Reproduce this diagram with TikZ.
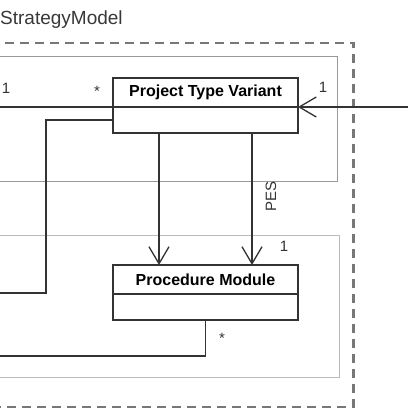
\documentclass[tikz,border=0pt]{standalone}
\usepackage{fontspec}
\setmainfont{Liberation Sans}
\usetikzlibrary{arrows.meta}
\definecolor{boxline}{HTML}{333333}
\definecolor{pkgline}{HTML}{777777}
\definecolor{frameA}{HTML}{999999}
\definecolor{frameB}{HTML}{BBBBBB}
\tikzset{
  umlhead/.style={draw=boxline, line width=1.6pt, minimum width=185pt, minimum height=29pt, inner sep=0pt, outer sep=0pt, anchor=north west, font=\fontsize{16}{18}\selectfont\bfseries},
  umlbody/.style={draw=boxline, line width=1.6pt, minimum width=185pt, minimum height=26pt, inner sep=0pt, outer sep=0pt, anchor=north west},
  conn/.style={draw=boxline, line width=1.4pt},
  openarrow/.style={-{Straight Barb[length=17pt, width=20pt, line width=1.3pt]}},
  lbl/.style={inner sep=0pt, anchor=base, font=\fontsize{15}{17}\selectfont, text=boxline},
}
\begin{document}
\begin{tikzpicture}[x=1pt, y=-1pt]
\useasboundingbox (0,0) rectangle (408,408);
% title
\node[anchor=base west, inner sep=0pt, font=\fontsize{19}{22}\selectfont, text=black!78] (title) at (0,24) {StrategyModel};
% package frame (dashed)
\draw[pkgline, line width=2.4pt, dash pattern=on 9pt off 6pt] (-10,42.7) -- (353.3,42.7) -- (353.3,407) -- (-10,407);
% inner frames
\draw[frameA, line width=1pt] (-10,56.5) -- (337,56.5) -- (337,181) -- (-10,181);
\draw[frameB, line width=1pt] (-10,235.7) -- (339.5,235.7) -- (339.5,377) -- (-10,377);
% classes
\node[umlhead] (ptvh) at (113,78) {Project Type Variant};
\node[umlbody] (ptvb) at (113,107) {};
\node[umlhead] (pmh) at (113,265) {Procedure Module};
\node[umlbody] (pmb) at (113,294) {};
% free ends
\coordinate (leftA) at (0,107);
\coordinate (rightA) at (410,107);
\coordinate (leftB) at (0,293);
\coordinate (leftC) at (0,356);
% connectors
\draw[conn] (leftA) -- (leftA -| ptvh.west);
\draw[conn, openarrow] (rightA) -- (rightA -| ptvh.east);
\draw[conn] (ptvb.west) -- ++(-67,0) |- (leftB);
\draw[conn, openarrow] ([xshift=-46.5pt]ptvb.south) -- ([xshift=-46.5pt]pmh.north);
\draw[conn, openarrow] ([xshift=46.5pt]ptvb.south) -- ([xshift=46.5pt]pmh.north);
\draw[conn] (pmb.south) |- (leftC);
% labels
\node[lbl] (m1) at (6,93) {1};
\node[lbl] (m2) at (97,96) {*};
\node[lbl] (m3) at (323,92) {1};
\node[lbl, anchor=center, rotate=90] (pes) at (271,196) {PES};
\node[lbl] (m4) at (284,251) {1};
\node[lbl] (m5) at (222,343) {*};
\end{tikzpicture}
\end{document}
